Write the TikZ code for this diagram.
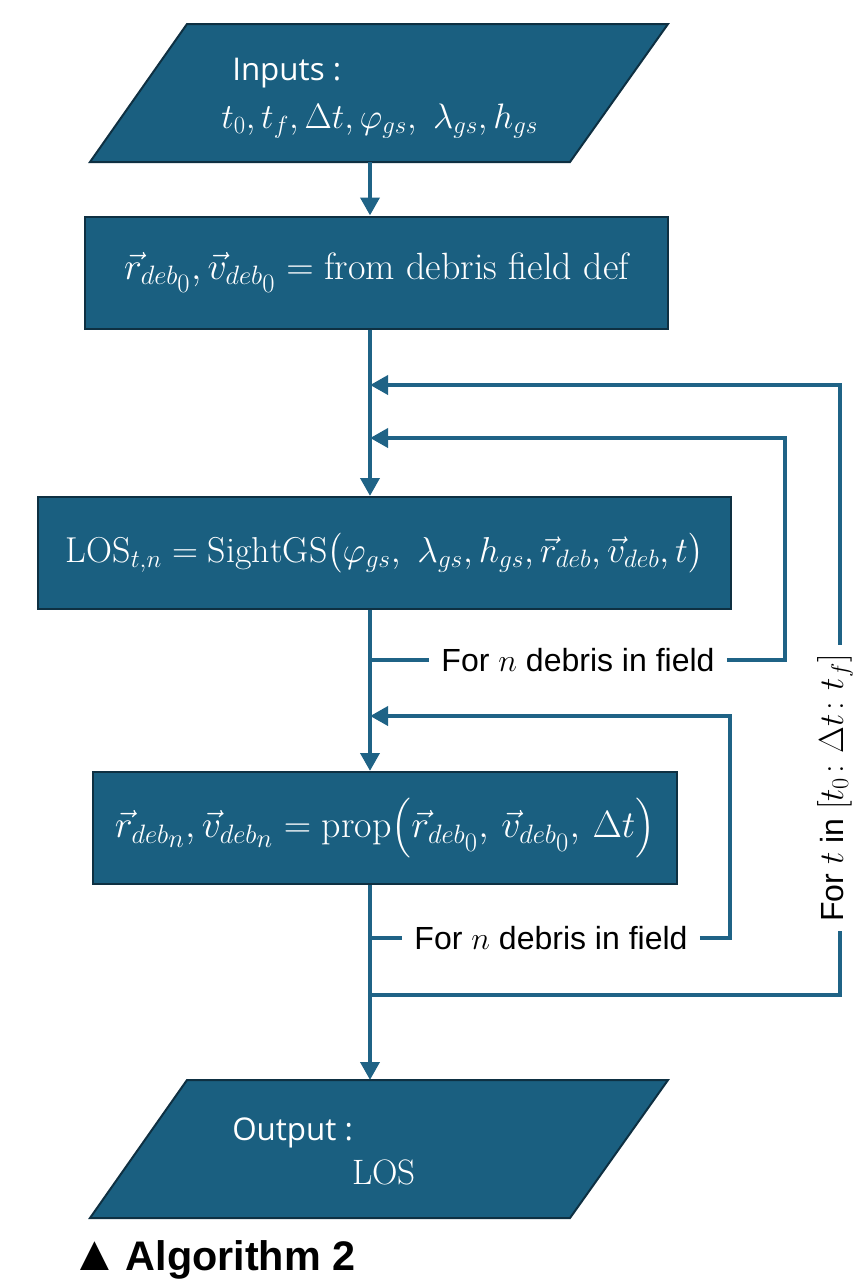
\RequirePackage{fix-cm}
\documentclass[tikz,border=0pt]{standalone}
\usepackage{amsmath}
\usepackage{fontspec}
\setsansfont{Liberation Sans}
\newfontfamily\iofont{Open Sans}
\usetikzlibrary{arrows.meta}
\definecolor{flowfill}{RGB}{26,95,128}
\definecolor{flowedge}{RGB}{14,48,66}
\definecolor{flowline}{RGB}{31,99,134}
\begin{document}
\begin{tikzpicture}[x=0.75pt,y=-0.75pt,
  procbox/.style={draw=flowedge, line width=1.5pt, fill=flowfill, text=white,
    inner sep=0pt, minimum height=112*0.75pt,
    font=\fontsize{27}{31}\selectfont},
  widemath/.style={font=\fontsize{28.5}{32}\selectfont},
  iobox/.style={draw=flowedge, line width=1.5pt, fill=flowfill},
  iotext/.style={text=white, inner sep=0pt, font=\iofont\fontsize{23.5}{28}\selectfont},
  iomath/.style={text=white, inner sep=0pt, font=\fontsize{26.5}{30}\selectfont},
  flow/.style={draw=flowline, line width=3.6pt},
  arr/.style={flow, -{Triangle[length=13.5pt,width=14pt]}},
  looplabel/.style={text=black, inner sep=9pt, font=\sffamily\fontsize{24}{28}\selectfont},
  caption/.style={text=black, inner sep=0pt, font=\sffamily\bfseries\fontsize{31}{36}\selectfont},
]
\useasboundingbox (0,0) rectangle (855,1279);

% input block
\filldraw[iobox] (187,24) -- (668,24) -- (570,162) -- (90,162) -- cycle;
\node[iotext, anchor=west] (inlabel) at (232,73) {Inputs :};
\node[iomath, anchor=west] (invars) at (221,121)
  {$t_0, t_f, \Delta t, \varphi_{gs},\ \lambda_{gs}, h_{gs}$};
\coordinate (in) at (370,162);

% process blocks
\node[procbox, widemath, minimum width=583*0.75pt] (init) at (376.5,272.5)
  {$\vec{r}_{deb_{\scriptstyle 0}}, \vec{v}_{deb_{\scriptstyle 0}} = \textrm{from debris field def}$};
\node[procbox, minimum width=693*0.75pt] (sight) at (384.5,553)
  {$\mathrm{LOS}_{t,n} = \mathrm{SightGS}\bigl(\varphi_{gs},\ \lambda_{gs}, h_{gs}, \vec{r}_{deb}, \vec{v}_{deb}, t\bigr)$};
\node[procbox, widemath, minimum width=584*0.75pt] (prop) at (385,828)
  {$\vec{r}_{deb_{\scriptstyle n}}, \vec{v}_{deb_{\scriptstyle n}} = \mathrm{prop}\bigl(\vec{r}_{deb_{\scriptstyle 0}},\, \vec{v}_{deb_{\scriptstyle 0}},\, \Delta t\bigr)$};

% output block
\filldraw[iobox] (187,1080) -- (668,1080) -- (570,1218) -- (90,1218) -- cycle;
\node[iotext, anchor=west] (outlabel) at (232,1133) {Output :};
\node[iomath] (outvar) at (384,1172) {$\mathrm{LOS}$};
\coordinate (out) at (370,1080);

% joints on the main line and the column of the time loop
\coordinate (tin) at (370,385);
\coordinate (nin1) at (370,438);
\coordinate (nout1) at (370,660);
\coordinate (nin2) at (370,716);
\coordinate (nout2) at (370,938);
\coordinate (tout) at (370,995);
\coordinate (tcol) at (840,995);

% loop labels
\node[looplabel] (loopA) at (578,660) {For $n$ debris in field};
\node[looplabel] (loopB) at (551,938) {For $n$ debris in field};
\node[looplabel, rotate=90, inner sep=7pt] (loopT) at (835,788)
  {For {\fontsize{26}{30}\selectfont$t$} in {\fontsize{26}{30}\selectfont$[t_0\colon \Delta t\colon t_f]$}};

% main line
\draw[arr] (in) -- (init.north -| in);
\draw[arr] (init.south -| in) -- (sight.north -| in);
\draw[arr] (sight.south -| in) -- (prop.north -| in);
\draw[arr] (prop.south -| in) -- (out);

% inner loop over debris (line of sight)
\draw[flow] (nout1) -- (loopA.west);
\draw[arr] (loopA.east) -- (785,660) -- (785,438) -- (nin1);

% inner loop over debris (propagation)
\draw[flow] (nout2) -- (loopB.west);
\draw[arr] (loopB.east) -- (730,938) -- (730,716) -- (nin2);

% outer loop over time
\draw[flow] (tout) -- (tcol) -- (loopT.west -| tcol);
\draw[arr] (loopT.east -| tcol) -- (840,385) -- (tin);

% caption
\node[caption, anchor=base west] (cap) at (70,1270)
  {{\fontsize{37}{40}\selectfont ▲}\hspace{5pt}Algorithm 2};
\end{tikzpicture}
\end{document}
